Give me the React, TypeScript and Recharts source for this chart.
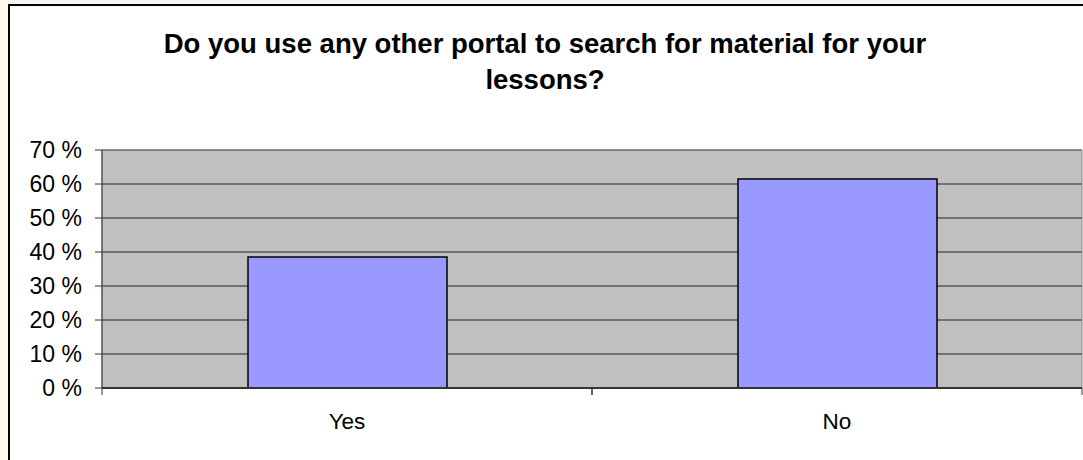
import React from 'react';
import { BarChart, Bar, XAxis, YAxis, CartesianGrid, ReferenceArea } from 'recharts';

const categories = ['Yes', 'No'];
const shares = [38.5, 61.5];
const yTicks = [0, 10, 20, 30, 40, 50, 60, 70];
const titleLines = ['Do you use any other portal to search for material for your', 'lessons?'];

const data = categories.map((c, i) => ({ name: c, value: shares[i] }));

const W = 1083;
const H = 460;
const PLOT_LEFT = 102;
const PLOT_RIGHT_MARGIN = 1;
const PLOT_W = W - PLOT_LEFT - PLOT_RIGHT_MARGIN;
const HALF_BAND = PLOT_W / categories.length / 2;
const FONT = '"Liberation Sans", Arial, Helvetica, sans-serif';
const TICK_MARGIN = 25;

const XTick = (props: any) => {
  const { x, y, payload } = props;
  const axisY = y - TICK_MARGIN;
  return (
    <g>
      <line x1={x - HALF_BAND} x2={x - HALF_BAND} y1={axisY} y2={axisY + 7} stroke="#333" strokeWidth={1} />
      <line x1={x + HALF_BAND} x2={x + HALF_BAND} y1={axisY} y2={axisY + 7} stroke="#333" strokeWidth={1} />
      <text x={x} y={y} dy="0.71em" textAnchor="middle" fontFamily={FONT} fontSize={22.5} fill="#000">
        {payload.value}
      </text>
    </g>
  );
};

export default function App() {
  return (
    <div style={{ position: 'absolute', left: 0, top: 0, width: W, height: H, overflow: 'hidden', background: '#FFF9EC' }}>
      <div style={{ position: 'absolute', left: 8, top: 0, width: W, height: 4, background: '#F4F4F4' }} />
      <div
        style={{
          position: 'absolute',
          left: 8,
          top: 4,
          width: W + 20,
          height: H + 20,
          border: '2px solid #000',
          background: '#fff',
          boxSizing: 'border-box',
        }}
      />
      <div
        style={{
          position: 'absolute',
          left: 8,
          top: 26,
          width: 1074,
          textAlign: 'center',
          fontFamily: FONT,
          fontWeight: 'bold',
          fontSize: 27.5,
          lineHeight: '36px',
          color: '#000',
        }}
      >
        {titleLines.map((l) => (
          <div key={l}>{l}</div>
        ))}
      </div>
      <div style={{ position: 'absolute', left: 0, top: 0 }}>
        <BarChart width={W} height={H} data={data} margin={{ top: 150, right: PLOT_RIGHT_MARGIN, left: 0, bottom: 32 }}>
          <CartesianGrid vertical={false} fill="#C0C0C0" stroke="#222" strokeWidth={1} />
          <ReferenceArea y1={0} y2={70} fill="none" stroke="#8A8A8A" strokeWidth={1} />
          <YAxis
            width={PLOT_LEFT}
            domain={[0, 70]}
            ticks={yTicks}
            interval={0}
            tickFormatter={(v: number) => `${v} %`}
            tickSize={7}
            tickMargin={13}
            axisLine={{ stroke: '#333' }}
            tickLine={{ stroke: '#333' }}
            tick={{ fontFamily: FONT, fontSize: 23, fill: '#000' }}
          />
          <XAxis
            dataKey="name"
            height={40}
            tickLine={false}
            tickSize={0}
            tickMargin={TICK_MARGIN}
            axisLine={{ stroke: '#333', strokeWidth: 2 }}
            tick={<XTick />}
            interval={0}
          />
          <Bar dataKey="value" fill="#9999FF" stroke="#000" strokeWidth={1.5} barSize={199} isAnimationActive={false} />
        </BarChart>
      </div>
    </div>
  );
}
